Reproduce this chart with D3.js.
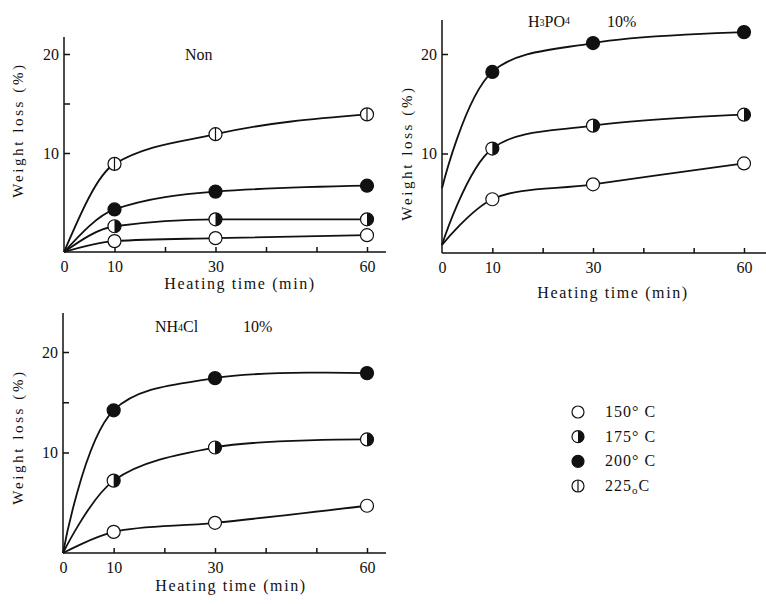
<!DOCTYPE html>
<html>
<head>
  <meta charset="utf-8">
  <title>Weight loss vs heating time</title>
  <style>
    body { margin: 0; background: #fff; }
    svg { display: block; font-family: "Liberation Serif", "DejaVu Serif", serif; }
    svg text { fill: #111; font-family: "Liberation Serif", "DejaVu Serif", serif; }
    .axis path, .axis line { stroke: #111; stroke-width: 1.5px; }
    .axis text { font-size: 16px; }
    .curve { fill: none; stroke: #111; stroke-width: 1.8px; }
    .label { font-size: 15px; letter-spacing: 2.6px; }
    .title { font-size: 16px; }
  </style>
</head>
<body>
  <svg width="766" height="604"></svg>
  <script src="https://d3js.org/d3.v7.min.js"></script>
  <script>
    // heating times (min) where samples were weighed
    var times = [10, 30, 60];

    // weight loss (%), one array per temperature
    var nonValues = {
      '150': [1.1, 1.4, 1.7],
      '175': [2.6, 3.3, 3.3],
      '200': [4.3, 6.1, 6.7],
      '225': [8.9, 11.9, 13.9]
    };
    var phosValues = {
      '150': [5.4, 6.9, 9.0],
      '175': [10.5, 12.8, 13.9],
      '200': [18.2, 21.1, 22.2]
    };
    var nh4Values = {
      '150': [2.1, 3.0, 4.7],
      '175': [7.2, 10.5, 11.3],
      '200': [14.2, 17.4, 17.9]
    };
    // where each fitted curve meets the y axis (time 0)
    var nonStart = { '150': 0, '175': 0, '200': 0, '225': 0 };
    var phosStart = { '150': 0.8, '175': 0.8, '200': 6.5 };
    var nh4Start = { '150': 0, '175': 0, '200': 0 };

    var xTickLabels = [0, 10, 30, 60];
    var xMinorTicks = [20, 40, 50];
    var yTickLabels = [10, 20];

    var legendKeys = ['150', '175', '200', '225'];

    var svg = d3.select('svg');

    // draw one marker of the given temperature at (0,0) inside g
    function marker(g, key, r) {
      if (key === '200') {
        g.append('circle').attr('r', r).attr('fill', '#111').attr('stroke', '#111').attr('stroke-width', 1.2);
        return;
      }
      g.append('circle').attr('r', r).attr('fill', '#fff').attr('stroke', '#111').attr('stroke-width', 1.2);
      if (key === '175') {
        g.append('path')
          .attr('d', 'M0,' + (-r) + ' A' + r + ',' + r + ' 0 0 1 0,' + r + ' Z')
          .attr('fill', '#111');
      }
      if (key === '225') {
        g.append('line').attr('y1', -r).attr('y2', r).attr('stroke', '#111').attr('stroke-width', 1.2);
      }
    }

    function panel(opt) {
      var x = d3.scaleLinear().domain([0, 60]).range([opt.x0, opt.x60]);
      var y = d3.scaleLinear().domain([0, 20]).range([opt.y0, opt.y20]);
      var g = svg.append('g');

      // axes lines
      g.append('line').attr('x1', opt.x0).attr('x2', opt.x0).attr('y1', opt.y0).attr('y2', opt.yTop)
        .attr('stroke', '#111').attr('stroke-width', 1.5);
      g.append('line').attr('x1', opt.x0).attr('x2', opt.xEnd).attr('y1', opt.y0).attr('y2', opt.y0)
        .attr('stroke', '#111').attr('stroke-width', 1.5);

      var xAxis = g.append('g').attr('class', 'axis').attr('transform', 'translate(0,' + opt.y0 + ')')
        .call(d3.axisBottom(x).tickValues(xTickLabels).tickSize(-5).tickPadding(9).tickFormat(d3.format('d')));
      xAxis.select('.domain').remove();
      xAxis.selectAll('.tick').filter(function(d) { return d === 0; }).select('line').remove();
      g.append('g').attr('class', 'axis').attr('transform', 'translate(0,' + opt.y0 + ')')
        .call(d3.axisBottom(x).tickValues(xMinorTicks).tickSize(-5).tickFormat(''))
        .select('.domain').remove();

      var yAxis = g.append('g').attr('class', 'axis').attr('transform', 'translate(' + opt.x0 + ',0)')
        .call(d3.axisLeft(y).tickValues(yTickLabels).tickSize(-6).tickPadding(5));
      yAxis.select('.domain').remove();
      if (opt.yMinor) {
        g.append('g').attr('class', 'axis').attr('transform', 'translate(' + opt.x0 + ',0)')
          .call(d3.axisLeft(y).tickValues(opt.yMinor).tickSize(-6).tickFormat(''))
          .select('.domain').remove();
      }

      var line = d3.line()
        .x(function(d) { return x(d[0]); })
        .y(function(d) { return y(d[1]); })
        .curve(opt.curve);

      Object.keys(opt.values).forEach(function(key) {
        var pts = [[0, opt.start[key]]].concat(times.map(function(t, i) { return [t, opt.values[key][i]]; }));
        g.append('path').attr('class', 'curve').attr('d', line(pts));
      });
      Object.keys(opt.values).forEach(function(key) {
        times.forEach(function(t, i) {
          var m = g.append('g').attr('transform', 'translate(' + x(t) + ',' + y(opt.values[key][i]) + ')');
          marker(m, key, 6.5);
        });
      });

      // axis titles
      g.append('text').attr('class', 'label')
        .attr('transform', 'translate(' + opt.yLabelX + ',' + opt.yLabelY + ') rotate(-90)')
        .attr('text-anchor', 'middle')
        .text('Weight loss  (%)');
      g.append('text').attr('class', 'label')
        .attr('x', opt.xLabelX).attr('y', opt.xLabelY)
        .attr('text-anchor', 'middle')
        .style('font-size', '16px').style('letter-spacing', '1.6px')
        .text('Heating time  (min)');
      return g;
    }

    var p1 = panel({
      x0: 64, x60: 367, xEnd: 386, y0: 252, y20: 54, yTop: 37, yMinor: [15],
      values: nonValues, start: nonStart, curve: d3.curveMonotoneX,
      yLabelX: 23, yLabelY: 130, xLabelX: 240, xLabelY: 289
    });
    p1.append('text').attr('class', 'title').attr('x', 185).attr('y', 60).text('Non');

    var p2 = panel({
      x0: 442, x60: 744, xEnd: 766, y0: 253, y20: 54, yTop: 20,
      values: phosValues, start: phosStart, curve: d3.curveCatmullRom,
      yLabelX: 412, yLabelY: 153, xLabelX: 613, xLabelY: 298
    });
    var t2 = p2.append('text').attr('class', 'title').attr('x', 528).attr('y', 27);
    t2.append('tspan').text('H');
    t2.append('tspan').style('font-size', '10px').attr('dy', -1).text('3');
    t2.append('tspan').attr('dy', 1).text('PO');
    t2.append('tspan').style('font-size', '10px').attr('dy', -3).text('4');
    p2.append('text').attr('class', 'title').attr('x', 607).attr('y', 27).text('10%');

    var p3 = panel({
      x0: 63, x60: 367, xEnd: 386, y0: 553, y20: 352, yTop: 313, yMinor: [15],
      values: nh4Values, start: nh4Start, curve: d3.curveCatmullRom,
      yLabelX: 23, yLabelY: 437, xLabelX: 231, xLabelY: 591
    });
    var t3 = p3.append('text').attr('class', 'title').attr('x', 155).attr('y', 332);
    t3.append('tspan').text('NH');
    t3.append('tspan').style('font-size', '10px').attr('dy', -1).text('4');
    t3.append('tspan').attr('dy', 1).text('Cl');
    p3.append('text').attr('class', 'title').attr('x', 243).attr('y', 332).text('10%');

    // legend
    var legendY = d3.scalePoint().domain(legendKeys).range([412, 486]);
    legendKeys.forEach(function(key) {
      var m = svg.append('g').attr('transform', 'translate(578,' + legendY(key) + ')');
      marker(m, key, 6);
      var t = svg.append('text').attr('x', 605).attr('y', legendY(key) + 5)
        .style('font-size', '16px').style('letter-spacing', '1px');
      if (key === '225') {
        t.append('tspan').text(key);
        t.append('tspan').attr('dy', 3).style('font-size', '11px').text('o');
        t.append('tspan').attr('dy', -3).text('C');
      } else {
        t.text(key + '° C');
      }
    });
  </script>
</body>
</html>
